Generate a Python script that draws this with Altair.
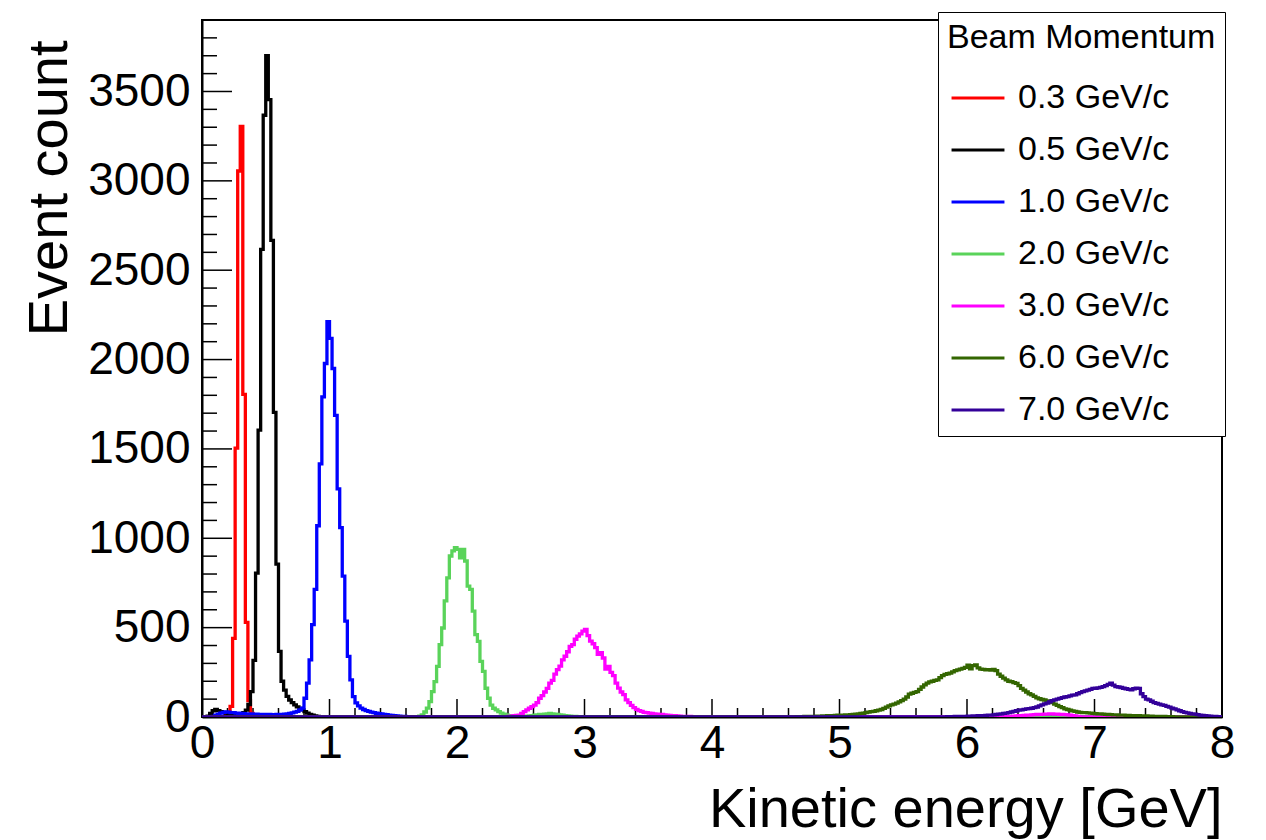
import altair as alt
import pandas as pd

FONT = "Liberation Sans"
BIN_WIDTH = 0.02
N_BINS = 400  # 0 .. 8 GeV

labels = ["0.3 GeV/c", "0.5 GeV/c", "1.0 GeV/c", "2.0 GeV/c",
          "3.0 GeV/c", "6.0 GeV/c", "7.0 GeV/c"]
colors = ["#ff0000", "#000000", "#0000ff", "#5ad35a",
          "#ff00ff", "#336600", "#330099"]

# first bin left edge (GeV) and counts per 0.02 GeV bin; all other bins are empty
red_start = 0.18
red_counts = [10, 20, 60, 440, 1505, 3055, 3305, 1805, 530, 92, 20, 8, 4]

black_start = 0.04
black_counts = [5, 20, 35, 42, 36, 30, 26, 22, 20, 17, 15, 14, 15, 18, 24, 38,
                70, 142, 317, 805, 1605, 2617, 3367, 3700, 3455, 2667, 1705, 855,
                367, 200, 150, 115, 95, 80, 68, 57, 48, 40, 30, 22, 15, 10, 6, 4, 2]

blue_start = 0.08
blue_counts = [4, 10, 16, 22, 26, 28, 27, 25, 24, 22, 21, 20, 19, 18, 18, 17,
               16, 16, 15, 15, 14, 14, 14, 13, 13, 14, 14, 15, 16, 18, 20, 23,
               27, 32, 40, 50,
               105, 189, 320, 517, 714, 1070, 1416, 1791, 1978, 2212, 2119, 1950,
               1688, 1276, 1060, 788, 536, 339, 208, 114, 79, 62, 50, 42, 36, 31,
               27, 24, 21, 19, 17, 15, 13, 11, 9, 8, 6, 5, 4, 3, 2, 1]

green_start = 1.70
green_counts = [5, 12, 28, 50, 86, 142, 198, 283, 405, 498, 650, 779, 901, 929,
                948, 938, 891, 938, 873, 732, 714, 592, 461, 423, 311, 255, 161,
                105, 67, 49, 40, 30, 22, 16, 12, 8, 5, 3, 2, 2, 3, 4, 5, 6, 8,
                10, 12, 14, 15, 16, 18, 20, 18, 16, 14, 12, 10, 8, 6, 5, 4, 3, 2, 1]

magenta_start = 2.40
magenta_counts = [3, 5, 7, 9, 11, 20, 30, 40, 49, 58, 67, 80, 105, 120, 140, 160,
                  189, 205, 240, 265, 285, 320, 340, 365, 395, 405, 435, 452, 465,
                  480, 490, 455, 425, 410, 388, 350, 360, 330, 268, 283, 250, 232,
                  190, 162, 140, 125, 96, 80, 65, 52, 43, 36, 32, 26, 24, 22, 20,
                  18, 16, 15, 14, 12, 10, 9, 8, 7, 6, 5, 4, 4, 3, 3, 2, 2, 1]

magenta_bump_start = 6.30
magenta_bump_counts = [2, 3, 4, 5, 6, 7, 8, 9, 10, 11, 12, 13, 14, 15, 15, 16, 16,
                       17, 17, 16, 16, 15, 14, 13, 12, 10, 8, 6, 4]

darkgreen_start = 4.60
darkgreen_counts = [1, 1, 1, 2, 2, 2, 3, 3, 3, 4, 4, 5, 5, 6, 6, 7, 7, 8, 9, 10,
                    10, 11, 12, 11, 13, 14, 16, 18, 20, 22, 25, 27, 30, 32, 35, 38,
                    42, 48, 55, 62, 68, 72, 78, 85, 92, 100, 112, 128, 133, 138, 142,
                    155, 168, 180, 190, 196, 200, 205, 208, 220, 232, 238, 242, 246,
                    252, 260, 264, 268, 272, 278, 290, 270, 288, 292, 275, 268, 266,
                    264, 265, 262, 266, 260, 240, 228, 218, 208, 200, 198, 192, 188,
                    175, 160, 150, 140, 130, 124, 115, 107, 102, 98, 95, 90, 86, 80,
                    72, 65, 58, 52, 46, 42, 38, 34, 31, 28, 26, 25, 24, 23, 22, 20,
                    19, 18, 17, 16, 15, 14, 13, 12, 12, 11, 11, 10, 9, 9, 8, 8, 7, 7,
                    6, 6, 6, 5, 5, 4, 4, 3, 3, 3, 2, 2, 2, 1, 1]

purple_start = 5.80
purple_counts = [1, 1, 2, 2, 2, 3, 3, 3, 4, 4, 5, 5, 6, 6, 7, 7, 8, 9, 10, 11,
                 12, 14, 16, 18, 20, 22, 25, 28, 32, 35, 38, 40, 43, 45, 47, 49, 52,
                 56, 62, 68, 74, 78, 85, 92, 96, 100, 104, 108, 112, 114, 118, 122,
                 124, 130, 136, 142, 146, 150, 155, 160, 161, 163, 166, 170, 175,
                 182, 189, 178, 170, 168, 165, 161, 158, 155, 152, 158, 162, 160,
                 130, 114, 100, 96, 88, 80, 76, 72, 68, 65, 60, 55, 50, 46, 40, 35,
                 30, 26, 23, 20, 18, 16, 13, 11, 9, 7, 6, 5, 4, 3, 2, 1]

series = [
    ("0.3 GeV/c", [(red_start, red_counts)]),
    ("0.5 GeV/c", [(black_start, black_counts)]),
    ("1.0 GeV/c", [(blue_start, blue_counts)]),
    ("2.0 GeV/c", [(green_start, green_counts)]),
    ("3.0 GeV/c", [(magenta_start, magenta_counts), (magenta_bump_start, magenta_bump_counts)]),
    ("6.0 GeV/c", [(darkgreen_start, darkgreen_counts)]),
    ("7.0 GeV/c", [(purple_start, purple_counts)]),
]

rows = []
for lab, parts in series:
    full = [0] * N_BINS
    for start, vals in parts:
        i0 = int(round(start / BIN_WIDTH))
        for k, v in enumerate(vals):
            if 0 <= i0 + k < N_BINS:
                full[i0 + k] = v
    for i in range(N_BINS):
        rows.append({"E": round(i * BIN_WIDTH, 4), "count": full[i], "beam": lab})
    rows.append({"E": 8.0, "count": full[-1], "beam": lab})
hist = pd.DataFrame(rows)

# axis tick marks (drawn inside the frame, ROOT style)
x_major = [float(v) for v in range(0, 9)]
x_minor = [round(i * 0.2, 2) for i in range(0, 41) if i % 5 != 0]
y_major = list(range(0, 3501, 500))
y_minor = [v for v in range(100, 3901, 100) if v % 500 != 0]

W, H = 1020, 697

x_scale = alt.Scale(domain=[0, 8], nice=False, zero=False)
y_scale = alt.Scale(domain=[0, 3900], nice=False)

x_axis = alt.Axis(title="Kinetic energy [GeV]", values=x_major, format="d",
                  ticks=False, grid=False, domainColor="black", domainWidth=2,
                  labelFont=FONT, labelFontSize=46, labelColor="black",
                  labelPadding=4, labelFlush=False, labelOverlap=False,
                  titleFont=FONT, titleFontSize=56, titleFontWeight="normal",
                  titleColor="black", titleX=W, titleY=109, titleAlign="right",
                  titleBaseline="alphabetic")
y_axis = alt.Axis(title="Event count", values=y_major, format="d",
                  ticks=False, grid=False, domainColor="black", domainWidth=2,
                  labelFont=FONT, labelFontSize=46, labelColor="black",
                  labelPadding=12, labelFlush=False, labelOverlap=False,
                  titleFont=FONT, titleFontSize=56, titleFontWeight="normal",
                  titleColor="black", titleAngle=270, titleX=-136, titleY=20,
                  titleAlign="right", titleBaseline="alphabetic")

X = alt.X("E:Q", scale=x_scale, axis=x_axis)
Y = alt.Y("count:Q", scale=y_scale, axis=y_axis)

legend = alt.Legend(title="Beam Momentum", orient="none", legendX=736, legendY=-8,
                    direction="vertical", symbolType="stroke", symbolSize=2800,
                    symbolStrokeWidth=3, symbolOffset=3,
                    labelFont=FONT, labelFontSize=34, labelColor="black", labelOffset=12,
                    titleFont=FONT, titleFontSize=34, titleFontWeight="normal",
                    titleColor="black", titlePadding=15, titleLimit=600, labelLimit=600,
                    strokeColor="black", fillColor="white", padding=9, rowPadding=7)

lines = alt.Chart(hist).mark_line(interpolate="step-after", strokeWidth=3.3, clip=True).encode(
    x=X, y=Y,
    color=alt.Color("beam:N", scale=alt.Scale(domain=labels, range=colors), legend=legend,
                    sort=labels),
)

xt_major = alt.Chart(pd.DataFrame({"E": x_major})).mark_rule(color="black", strokeWidth=1.5).encode(
    x=X, y=alt.value(H), y2=alt.value(H - 18))
xt_minor = alt.Chart(pd.DataFrame({"E": x_minor})).mark_rule(color="black", strokeWidth=1.5).encode(
    x=X, y=alt.value(H), y2=alt.value(H - 9))
yt_major = alt.Chart(pd.DataFrame({"count": y_major})).mark_rule(color="black", strokeWidth=1.5).encode(
    y=Y, x=alt.value(0), x2=alt.value(30))
yt_minor = alt.Chart(pd.DataFrame({"count": y_minor})).mark_rule(color="black", strokeWidth=1.5).encode(
    y=Y, x=alt.value(0), x2=alt.value(15))

chart = alt.layer(xt_major, xt_minor, yt_major, yt_minor, lines).properties(
    width=W, height=H,
    autosize=alt.AutoSizeParams(type="none"),
    padding={"left": 202, "top": 20, "right": 44, "bottom": 123},
    background="white",
).configure_view(stroke="black", strokeWidth=2)

chart.save("out.html", embed_options={"renderer": "svg", "actions": False})
